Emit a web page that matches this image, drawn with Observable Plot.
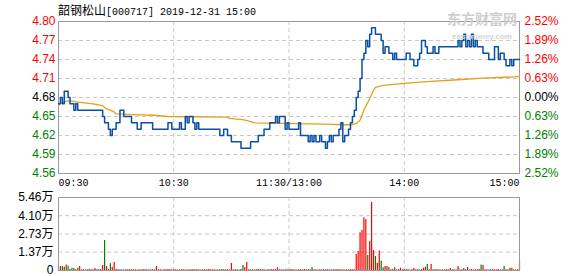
<!DOCTYPE html>
<html>
<head>
<meta charset="utf-8">
<script src="https://cdn.jsdelivr.net/npm/d3@7"></script>
<script src="https://cdn.jsdelivr.net/npm/@observablehq/plot@0.6"></script>
<style>
  html, body { margin: 0; padding: 0; background: #fff; }
  #wrap { position: relative; width: 578px; height: 276px; overflow: hidden; }
  #title { position: absolute; left: 58px; top: 2px; font-size: 12px; line-height: 16px; color: #000; white-space: pre; }
  #title .cjk { font-family: "Noto Sans CJK SC", sans-serif; font-size: 12px; }
  #title .mono { font-family: "Liberation Mono", monospace; font-size: 10px; }
  #wm { position: absolute; left: 447px; top: 11px; height: 15px; line-height: 15px; font-family: "Noto Sans CJK SC", sans-serif; font-weight: bold; font-size: 14px; color: #cfcfcf; }
  #wm2 { position: absolute; left: 452px; top: 33px; height: 8px; line-height: 8px; font-family: "Liberation Sans", sans-serif; font-weight: bold; font-size: 8px; color: #d4d4d4; }
  #price, #vol { position: absolute; left: 0; }
  #price { top: 0; }
  #vol { top: 190px; }
</style>
</head>
<body>
<div id="wrap">
  <div id="price"></div>
  <div id="vol"></div>
  <div id="wm">东方财富网</div>
  <div id="wm2">eastmoney.com</div>
  <div id="title"></div>
</div>
<script>
// ---- text ----
const stockName = "韶钢松山";
const stockCode = "[000717]";
const stamp = " 2019-12-31 15:00";

// ---- axes ----
const priceTicks = [4.80, 4.77, 4.74, 4.71, 4.68, 4.65, 4.62, 4.59, 4.56];
const priceTickColors = ["#ff0000","#ff0000","#ff0000","#ff0000","#000000","#008000","#008000","#008000","#008000"];
const pctLabels = ["2.52%","1.89%","1.26%","0.63%","0.00%","0.63%","1.26%","1.89%","2.52%"];
const timeTicks = [0, 60, 120, 180, 240];
const timeLabels = ["09:30", "10:30", "11:30/13:00", "14:00", "15:00"];
const volTicks = [0, 13700, 27300, 41000, 54600];
const volLabels = ["0", "1.37万", "2.73万", "4.10万", "5.46万"];

// ---- price (minute index from 09:30, price at change points) ----
const priceMin = [0,1,2,3,5,6,8,9,10,23,24,26,27,28,30,32,34,38,41,43,49,57,59,63,64,66,67,68,70,71,72,73,84,86,88,90,95,100,104,107,110,113,114,115,118,119,120,125,126,130,131,132,133,134,136,137,139,140,141,142,143,146,147,148,149,151,152,153,154,155,156,157,158,159,160,161,162,163,165,168,169,170,172,174,175,176,181,183,185,187,188,189,191,192,195,196,198,208,209,210,211,212,213,214,215,216,217,218,221,224,227,229,230,232,233,235,236,237,240];
const priceVal = [4.67,4.68,4.67,4.69,4.68,4.67,4.66,4.67,4.66,4.65,4.64,4.63,4.62,4.63,4.64,4.66,4.65,4.64,4.63,4.64,4.63,4.64,4.63,4.64,4.63,4.65,4.64,4.65,4.64,4.63,4.64,4.63,4.62,4.63,4.62,4.61,4.60,4.61,4.62,4.63,4.64,4.65,4.64,4.65,4.63,4.64,4.63,4.64,4.62,4.61,4.62,4.61,4.62,4.61,4.62,4.61,4.60,4.61,4.62,4.61,4.62,4.63,4.64,4.61,4.62,4.63,4.64,4.65,4.66,4.68,4.69,4.71,4.74,4.75,4.77,4.76,4.78,4.79,4.78,4.77,4.75,4.76,4.75,4.74,4.75,4.74,4.75,4.74,4.73,4.74,4.75,4.77,4.76,4.75,4.76,4.75,4.76,4.77,4.76,4.77,4.78,4.76,4.77,4.76,4.78,4.76,4.77,4.76,4.75,4.74,4.76,4.74,4.75,4.74,4.73,4.74,4.73,4.74,4.74];

// ---- average price ----
const avgMin = [0,1,3,4,6,9,18,23,25,27,29,30,39,50,57,88,89,96,100,102,139,148,153,155,157,159,162,164,165,169,177,183,194,208,221,232,240];
const avgVal = [4.667,4.671,4.673,4.674,4.675,4.673,4.670,4.667,4.662,4.660,4.657,4.654,4.653,4.652,4.650,4.649,4.647,4.645,4.642,4.640,4.638,4.637,4.637,4.639,4.644,4.660,4.678,4.691,4.696,4.699,4.7015,4.703,4.7055,4.708,4.7105,4.712,4.713];

// ---- volume per minute (shares) and colour (r = up, g = down) ----
const volume = [
  2500,3000,3000,2500,4200,3200,700,1700,1500,600,1700,3000,500,600,400,500,700,500,600,1500,
  500,600,700,3700,22400,3000,800,5000,2500,6000,700,500,600,500,400,600,500,700,500,600,
  500,400,600,500,700,500,600,400,500,600,500,3000,600,500,400,600,500,700,500,600,
  500,600,400,500,700,600,500,400,600,500,700,500,600,500,400,500,600,500,700,500,
  600,500,400,500,600,700,500,600,500,400,5200,500,600,500,400,700,3700,2200,6000,600,
  500,600,400,500,700,500,600,500,400,600,500,700,500,600,2000,500,600,400,500,600,
  500,700,500,600,400,500,600,500,700,500,600,500,2200,600,500,400,600,500,700,500,
  600,500,400,600,500,700,500,600,500,400,600,500,700,500,600,12000,14200,28200,29900,39400,
  38200,11200,21700,50900,15000,10500,5500,14500,7000,2000,3000,3000,2200,600,700,2000,500,600,1700,500,
  600,700,500,400,600,1500,500,600,400,700,1700,2500,4500,600,4500,500,700,600,500,400,
  600,500,700,500,1500,600,500,400,3000,600,500,1500,600,2200,500,700,400,600,500,700,
  4200,3700,500,600,400,700,500,600,500,700,400,600,3000,500,600,1700,1700,500,400,600,7000
];
const volDir =
  "rrggrggggrgrrrgrrgrr" +
  "rgrrgrrgrrrgrrrgrrgr" +
  "rrgrrrgrrrgrrrgrrrgr" +
  "rrgrrrrgrrrgrrrrgrrr" +
  "rgrrrgrrrgrrrgrrgrrg" +
  "rrgrrrgrrrrgrrrrgrrr" +
  "rgrrrgrrrrgrgrrrgrrr" +
  "rrgrrrgrrrrgrrrrrrrr" +
  "rgrrrgrrggrrgrgrrgrr" +
  "rrgrrrrgrrrrgrrgrrgr" +
  "rrgrrrgrrrrgrrgrrrgr" +
  "grrrgrrrgrrrgrrgrrgrr";

// ---- build ----
const priceData = priceMin.map((m, i) => ({m, p: priceVal[i]}));
const avgData = avgMin.map((m, i) => ({m, p: avgVal[i]}));
const volData = volume.map((v, i) => ({m: i, v, c: volDir[i] === "g" ? "#008000" : "#ff0000"}));
const axisFont = "Liberation Sans, Noto Sans CJK SC, sans-serif";
const gridStyle = {stroke: "#c8c8c8", strokeDasharray: "4,3", strokeWidth: 1};

document.getElementById("title").innerHTML =
  `<span class="cjk">${stockName}</span><span class="mono">${stockCode}${stamp}</span>`;

const priceIdx = priceTicks.map((_, i) => i);
const timeIdx = timeTicks.map((_, i) => i);

const pricePlot = Plot.plot({
  width: 578, height: 190,
  marginLeft: 58, marginRight: 59, marginTop: 21, marginBottom: 17,
  x: {domain: [0, 240], axis: null},
  y: {domain: [4.56, 4.80], axis: null},
  color: {type: "identity"},
  style: {fontFamily: axisFont, fontSize: "12px", background: "transparent", overflow: "visible"},
  marks: [
    Plot.ruleY(priceTicks.slice(1, -1), gridStyle),
    Plot.ruleX(timeTicks.slice(1, -1), gridStyle),
    Plot.frame({stroke: "#999"}),
    Plot.line(avgData, {x: "m", y: "p", stroke: "#e0a11b", strokeWidth: 1.3}),
    Plot.line(priceData, {x: "m", y: "p", curve: "step-after", stroke: "#0b4fa3", strokeWidth: 1.5}),
    Plot.text(priceIdx, {x: () => 0, y: i => priceTicks[i], text: i => priceTicks[i].toFixed(2), fill: i => priceTickColors[i], textAnchor: "end", dx: -3, fontSize: 12}),
    Plot.text(priceIdx, {x: () => 240, y: i => priceTicks[i], text: i => pctLabels[i], fill: i => priceTickColors[i], textAnchor: "start", dx: 5, fontSize: 12}),
    Plot.text(timeIdx.filter(i => i === 0), {x: i => timeTicks[i], y: () => 4.56, text: i => timeLabels[i], textAnchor: "start", dy: 9, fontFamily: "Liberation Mono, monospace", fontSize: 10, fill: "#000"}),
    Plot.text(timeIdx.filter(i => i > 0 && i < 4), {x: i => timeTicks[i], y: () => 4.56, text: i => timeLabels[i], textAnchor: "middle", dy: 9, fontFamily: "Liberation Mono, monospace", fontSize: 10, fill: "#000"}),
    Plot.text(timeIdx.filter(i => i === 4), {x: i => timeTicks[i], y: () => 4.56, text: i => timeLabels[i], textAnchor: "end", dy: 9, fontFamily: "Liberation Mono, monospace", fontSize: 10, fill: "#000"})
  ]
});
document.getElementById("price").append(pricePlot);

const volIdx = volTicks.map((_, i) => i);
const volPlot = Plot.plot({
  width: 578, height: 86,
  marginLeft: 58, marginRight: 59, marginTop: 7, marginBottom: 6,
  x: {domain: [0, 240], axis: null},
  y: {domain: [0, 54600], axis: null},
  color: {type: "identity"},
  style: {fontFamily: axisFont, fontSize: "12px", background: "transparent", overflow: "visible"},
  marks: [
    Plot.ruleY(volTicks.slice(1, -1), gridStyle),
    Plot.ruleX(timeTicks.slice(1, -1), gridStyle),
    Plot.ruleX(volData, {x: "m", y1: () => 0, y2: "v", stroke: "c", strokeWidth: 1.2}),
    Plot.frame({stroke: "#999"}),
    Plot.text(volIdx, {x: () => 0, y: i => volTicks[i], text: i => volLabels[i], textAnchor: "end", dx: -5, fill: "#000", fontSize: 12})
  ]
});
document.getElementById("vol").append(volPlot);
</script>
</body>
</html>
